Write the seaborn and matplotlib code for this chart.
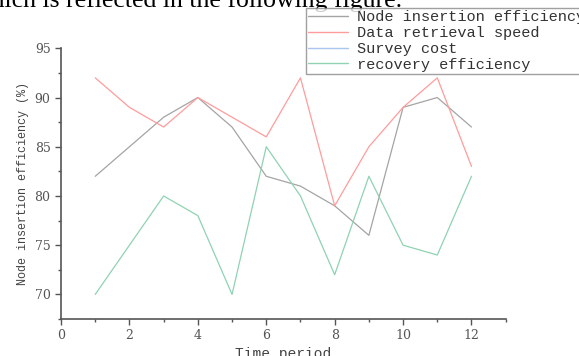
import pandas as pd
import numpy as np
import matplotlib
matplotlib.use("Agg")
import matplotlib.pyplot as plt
from matplotlib.lines import Line2D
from matplotlib.ticker import MultipleLocator
import seaborn as sns

periods = [1, 2, 3, 4, 5, 6, 7, 8, 9, 10, 11, 12]
node_insertion = [82, 85, 88, 90, 87, 82, 81, 79, 76, 89, 90, 87]
data_retrieval = [92, 89, 87, 90, 88, 86, 92, 79, 85, 89, 92, 83]
recovery = [70, 75, 80, 78, 70, 85, 80, 72, 82, 75, 74, 82]
series_names = ["Node insertion efficiency", "Data retrieval speed",
                "Survey cost", "recovery efficiency"]
colors = {"Node insertion efficiency": "#a4a4a4",
          "Data retrieval speed": "#ff9c9c",
          "Survey cost": "#a9c6ee",
          "recovery efficiency": "#8fd3b2"}

df = pd.DataFrame({"period": periods * 3,
                   "value": node_insertion + data_retrieval + recovery,
                   "series": [series_names[0]] * 12 + [series_names[1]] * 12
                   + [series_names[3]] * 12})

sns.set_style("ticks")
plt.rcParams['font.family'] = ['DejaVu Serif']

fig = plt.figure(figsize=(5.79, 3.56), dpi=100)
ax = fig.add_axes([0.1054, 0.1039, 0.768, 0.7604])

for name in [series_names[0], series_names[1], series_names[3]]:
    sub = df[df.series == name]
    sns.lineplot(data=sub, x="period", y="value", color=colors[name],
                 linewidth=0.9, ax=ax, legend=False)

ax.set_xlim(0, 13)
ax.set_ylim(67.5, 95)
ax.xaxis.set_major_locator(MultipleLocator(2))
ax.xaxis.set_minor_locator(MultipleLocator(1))
ax.yaxis.set_major_locator(MultipleLocator(5))
ax.yaxis.set_minor_locator(MultipleLocator(2.5))
sns.despine(ax=ax)
for s in ["left", "bottom"]:
    ax.spines[s].set_color("#555555")
    ax.spines[s].set_linewidth(1.2)
ax.tick_params(which="major", length=4, width=1, color="#555555",
               labelsize=9, labelcolor="#555555")
ax.tick_params(which="minor", length=2, width=1, color="#555555")

ax.set_xlabel("Time period", family="Liberation Mono", fontsize=10.5,
              color="#444444", labelpad=3)
ax.set_ylabel("Node insertion efficiency (%)", family="Liberation Mono",
              fontsize=8.5, color="#444444", labelpad=4)

handles = [Line2D([], [], color=colors[n], linewidth=1) for n in series_names]
leg = fig.legend(handles, series_names, loc="upper left",
                 bbox_to_anchor=(306 / 579, 1 - 8 / 356),
                 prop={"family": "Liberation Mono", "size": 11},
                 frameon=True, fancybox=False, edgecolor="#888888",
                 borderpad=0.15, labelspacing=0.12, handlelength=2.6,
                 handletextpad=0.6, borderaxespad=0)
leg.get_frame().set_linewidth(1.0)
for t in leg.get_texts():
    t.set_color("#333333")

fig.text(402 / 579, 1 - 6.5 / 356, "which is reflected in the following figure.",
         ha="right", va="baseline", fontsize=18.5, color="black",
         family="Liberation Serif")

fig.savefig("out.png", dpi=100)
